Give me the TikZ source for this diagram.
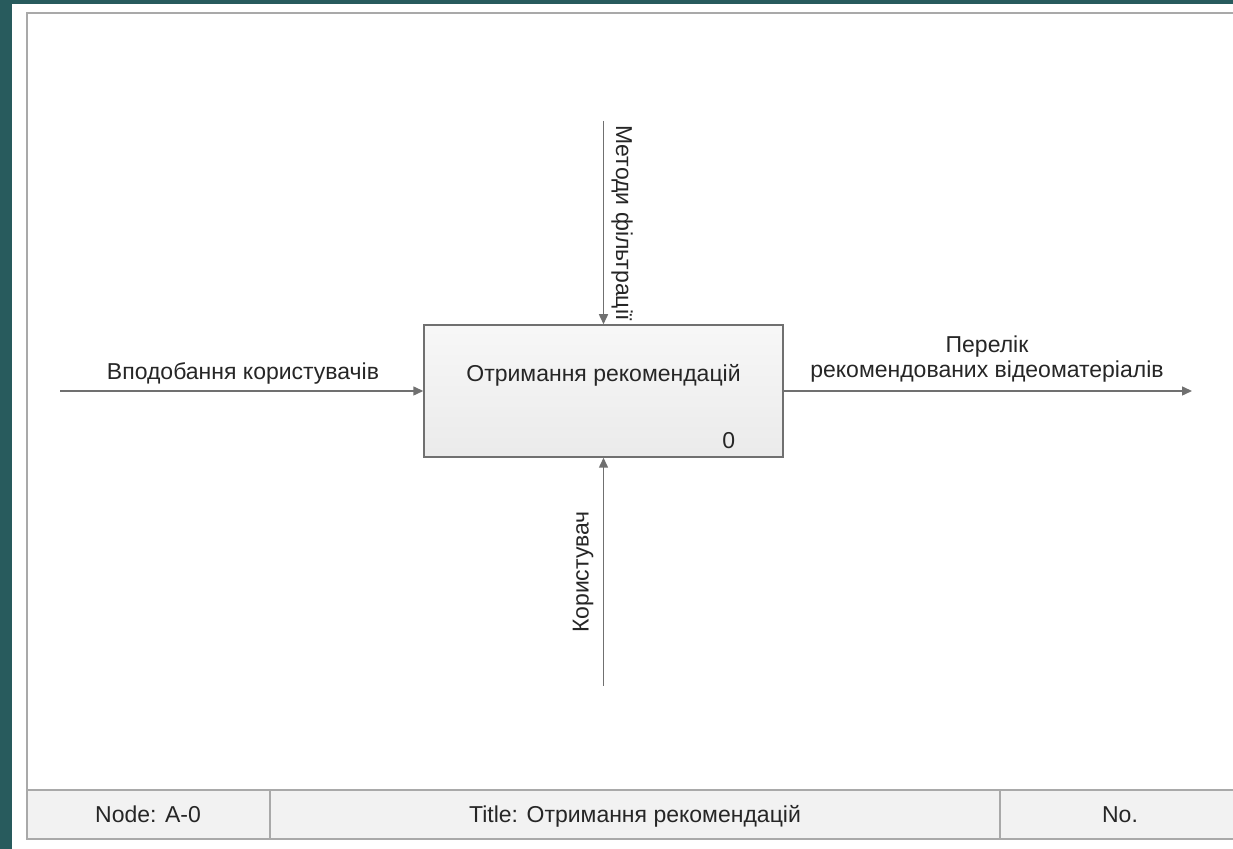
\documentclass[tikz,border=0pt]{standalone}
\usepackage{fontspec}
\setmainfont{Liberation Sans}
\usetikzlibrary{arrows.meta}

\definecolor{slide}{HTML}{285B5D}
\definecolor{idefline}{HTML}{707070}
\definecolor{frameline}{HTML}{A9A9A9}
\definecolor{boxfill}{HTML}{F1F1F1}
\definecolor{cellfill}{HTML}{F2F2F2}

\begin{document}
\begin{tikzpicture}[x=0.5pt, y=-0.5pt,
            every node/.style={font=\fontsize{11.5}{12.5}\selectfont, text=black!85},
            func/.style={draw=idefline, line width=0.75pt, top color=white!97!black, bottom color=white!92!black, minimum width=179.5pt, minimum height=66pt, inner sep=0pt},
            flow/.style={draw=idefline, line width=0.75pt, -{Triangle[length=5pt, width=4.5pt]}},
            frame/.style={draw=frameline, line width=1pt},
            cell/.style={draw=frameline, line width=1pt, fill=cellfill},
            celltext/.style={anchor=base}
        ]
        \useasboundingbox (0,0) rectangle (1233,849);
        
        % slide background
        \fill[slide] (0,0) rectangle (1233,849);
        \fill[white] (12,4) rectangle (1233,849);
        
        % sheet frame and footer
        \draw[cell] (27,790) rectangle (270,839);
        \draw[cell] (270,790) rectangle (1000,839);
        \draw[cell] (1000,790) rectangle (1250,839);
        \draw[frame] (1250,13) -- (27,13) -- (27,790);
        \node[celltext] (nodecell) at (148,823) {Node: A-0};
        \node[celltext] (titlecell) at (635,823) {Title: Отримання рекомендацій};
        \node[celltext] (nocell) at (1120,823) {No.};
        
        % function box
        \node[func] (act) at (603.5,391) {};
        \node (acttitle) at ([yshift=8pt]act.center) {Отримання рекомендацій};
        \node (actnum) at ([xshift=-27.5pt, yshift=8.5pt]act.south east) {0};
        
        % free ends of the arrows
        \coordinate (inp) at (60,391);
        \coordinate (outp) at (1192,391);
        \coordinate (ctrl) at (603.5,121);
        \coordinate (mech) at (603.5,686);
        
        \draw[flow] (inp) -- (act.west);
        \draw[flow] (act.east) -- (outp);
        \draw[flow] (ctrl) -- (act.north);
        \draw[flow] (mech) -- (act.south);
        
        \node (inlabel) at (243,373) {Вподобання користувачів};
        \node[align=center] (outlabel) at (987,359) {Перелік\\рекомендованих відеоматеріалів};
        \node[rotate=-90] (ctrllabel) at (622,223) {Методи фільтрації};
        \node[rotate=90] (mechlabel) at (583,572) {Користувач};
        \end{tikzpicture}
\end{document}
